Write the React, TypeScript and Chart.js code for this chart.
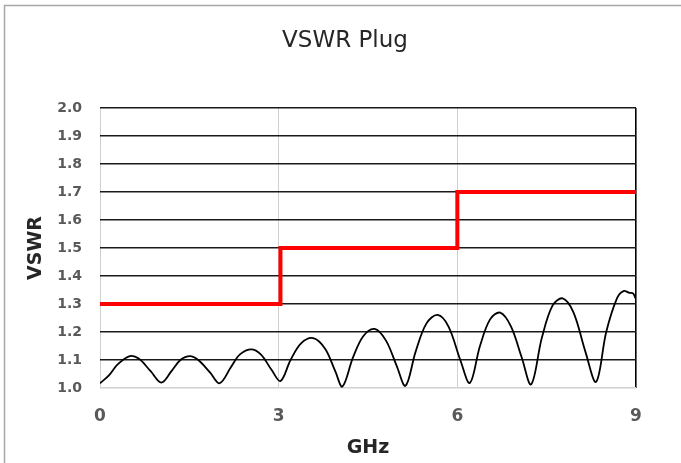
import React, { useEffect, useRef } from "react";
import { Chart, registerables } from "chart.js";

Chart.register(...registerables);

const TITLE = "VSWR Plug";
const X_TITLE = "GHz";
const Y_TITLE = "VSWR";

// Measured VSWR trace (GHz, VSWR)
const freqGHz = [
  0.0, 0.15, 0.3, 0.5, 0.65, 0.85, 1.03, 1.2, 1.35, 1.51, 1.65, 1.85, 2.01,
  2.2, 2.35, 2.54, 2.7, 2.88, 3.03, 3.2, 3.38, 3.58, 3.78, 3.95, 4.07, 4.25,
  4.42, 4.61, 4.8, 4.98, 5.13, 5.3, 5.48, 5.67, 5.85, 6.05, 6.21, 6.38, 6.55,
  6.72, 6.9, 7.08, 7.24, 7.42, 7.6, 7.77, 7.95, 8.15, 8.33, 8.5, 8.68, 8.79,
  8.89, 8.95, 9.0,
];
const vswr = [
  1.017, 1.045, 1.085, 1.114, 1.105, 1.06, 1.019, 1.06, 1.1, 1.114, 1.1, 1.055,
  1.017, 1.075, 1.12, 1.138, 1.12, 1.065, 1.025, 1.1, 1.16, 1.178, 1.14, 1.06,
  1.005, 1.11, 1.185, 1.211, 1.17, 1.08, 1.008, 1.13, 1.23, 1.261, 1.22, 1.1,
  1.018, 1.15, 1.245, 1.269, 1.22, 1.11, 1.013, 1.18, 1.295, 1.32, 1.27, 1.13,
  1.022, 1.2, 1.32, 1.346, 1.34, 1.338, 1.317,
];

// Specification limit (step line)
const limitGHz = [0, 3.03, 3.03, 6, 6, 9];
const limitVswr = [1.3, 1.3, 1.5, 1.5, 1.7, 1.7];

const X_MIN = 0;
const X_MAX = 9;
const X_STEP = 3;
const Y_MIN = 1.0;
const Y_MAX = 2.0;
const Y_STEP = 0.1;

const framePlugin = {
  id: "frame",
  beforeDraw(chart: any) {
    const { ctx, width, height } = chart;
    ctx.save();
    ctx.fillStyle = "#ffffff";
    ctx.fillRect(0, 0, width, height);
    ctx.strokeStyle = "#a6a6a6";
    ctx.lineWidth = 1.5;
    ctx.beginPath();
    ctx.moveTo(4.5, height + 2);
    ctx.lineTo(4.5, 5.5);
    ctx.lineTo(width + 2, 5.5);
    ctx.stroke();
    ctx.restore();
  },
};

export default function App() {
  const ref = useRef<HTMLCanvasElement | null>(null);

  useEffect(() => {
    document.body.style.margin = "0";
    if (!ref.current) return;
    const trace = freqGHz.map((f, i) => ({ x: f, y: vswr[i] }));
    const limit = limitGHz.map((f, i) => ({ x: f, y: limitVswr[i] }));
    const chart = new Chart(ref.current, {
      type: "line",
      data: {
        datasets: [
          {
            label: "Limit",
            data: limit,
            borderColor: "#ff0000",
            borderWidth: 4,
            pointRadius: 0,
            tension: 0,
            borderJoinStyle: "miter",
          },
          {
            label: "VSWR",
            data: trace,
            borderColor: "#000000",
            borderWidth: 1.8,
            pointRadius: 0,
            tension: 0.35,
          },
        ],
      },
      options: {
        animation: false,
        responsive: false,
        layout: { padding: { left: 9, right: 0, top: 0, bottom: 0 } },
        plugins: {
          legend: { display: false },
          tooltip: { enabled: false },
          title: {
            display: true,
            text: TITLE,
            color: "#262626",
            font: { family: "DejaVu Sans", size: 23, weight: "normal", lineHeight: 1.2 },
            padding: { top: 27.5, bottom: 52.9 },
          },
        },
        scales: {
          x: {
            type: "linear",
            min: X_MIN,
            max: X_MAX,
            afterFit: (axis: any) => {
              axis.height = 75;
            },
            ticks: {
              stepSize: X_STEP,
              color: "#595959",
              padding: 18,
              font: { family: "DejaVu Sans", size: 17, weight: "bold" },
            },
            grid: {
              drawTicks: false,
              color: (c: any) => (c.tick && c.tick.value === X_MAX ? "#000000" : "#d0d0d0"),
              lineWidth: (c: any) => (c.tick && c.tick.value === X_MAX ? 1.6 : 1),
            },
            border: { display: false },
            title: {
              display: true,
              text: X_TITLE,
              color: "#262626",
              font: { family: "DejaVu Sans", size: 19, weight: "bold", lineHeight: 1.2 },
              padding: { top: 0, bottom: 3.6 },
            },
          },
          y: {
            type: "linear",
            min: Y_MIN,
            max: Y_MAX,
            afterFit: (axis: any) => {
              axis.width = 91;
            },
            ticks: {
              stepSize: Y_STEP,
              color: "#595959",
              padding: 18,
              font: { family: "DejaVu Sans", size: 14, weight: "bold" },
              callback: (v: any) => Number(v).toFixed(1),
            },
            grid: {
              drawTicks: false,
              color: (c: any) =>
                c.tick && Math.abs(c.tick.value - Y_MIN) < 1e-6 ? "#d0d0d0" : "#1a1a1a",
              lineWidth: 1.5,
            },
            border: { display: false },
            title: {
              display: true,
              text: Y_TITLE,
              color: "#262626",
              font: { family: "DejaVu Sans", size: 19, weight: "bold", lineHeight: 1.2 },
              padding: { top: 15.5, bottom: 0 },
            },
          },
          yRight: {
            type: "linear",
            position: "right",
            display: true,
            afterFit: (axis: any) => {
              axis.width = 45;
            },
            ticks: { display: false },
            grid: { display: false, drawTicks: false },
            border: { display: false },
          },
        },
      },
      plugins: [framePlugin],
    });
    return () => chart.destroy();
  }, []);

  return (
    <div style={{ width: 681, height: 463 }}>
      <canvas ref={ref} width={681} height={463} style={{ display: "block" }} />
    </div>
  );
}
